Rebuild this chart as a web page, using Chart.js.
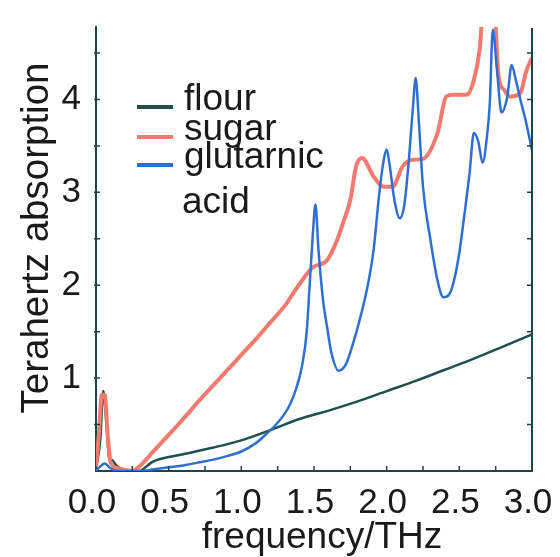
<!DOCTYPE html>
<html>
<head>
<meta charset="utf-8">
<script src="https://cdn.jsdelivr.net/npm/chart.js@4.4.1/dist/chart.umd.min.js"></script>
<style>
  html, body { margin: 0; padding: 0; background: #ffffff; }
  #wrap { width: 560px; height: 557px; }
</style>
</head>
<body>
<div id="wrap"><canvas id="thzChart" width="560" height="557"></canvas></div>
<script>
// =====================================
// TERAHERTZ ABSORPTION SPECTRA
// =====================================

const xTicks = [0.0, 0.5, 1.0, 1.5, 2.0, 2.5, 3.0];
const yTicks = [1, 2, 3, 4];

const seriesNames = ["flour", "sugar", "glutarnic acid"];

const xTitle = "frequency/THz";
const yTitle = "Terahertz absorption";

const flourFreq = [0, 0.03, 0.05, 0.07, 0.09, 0.11, 0.14, 0.18, 0.24, 0.3, 0.34, 0.38, 0.42, 0.6, 0.8, 1.0, 1.2, 1.4, 1.6, 1.8, 2.0, 2.2, 2.4, 2.6, 2.8, 3.0];
const flourAbs  = [0.02, 0.35, 0.86, 0.55, 0.15, 0.12, 0.06, 0.02, 0.0, 0.0, 0.04, 0.09, 0.12, 0.18, 0.25, 0.33, 0.44, 0.56, 0.65, 0.75, 0.86, 0.97, 1.09, 1.21, 1.34, 1.47];

const sugarFreq = [0, 0.02, 0.04, 0.06, 0.08, 0.1, 0.15, 0.2, 0.25, 0.3, 0.4, 0.5, 0.6, 0.7, 0.8, 0.9, 1.0, 1.1, 1.2, 1.3, 1.36, 1.49, 1.59, 1.66, 1.7, 1.75, 1.79, 1.83, 1.91, 1.98, 2.04, 2.11, 2.18, 2.25, 2.35, 2.41, 2.46, 2.55, 2.6, 2.64, 2.66, 2.69, 2.74, 2.77, 2.81, 2.85, 2.92, 2.96, 3.0];
const sugarAbs  = [0.05, 0.4, 0.82, 0.82, 0.4, 0.1, 0.03, 0.01, 0.0, 0.05, 0.22, 0.39, 0.56, 0.74, 0.91, 1.08, 1.25, 1.42, 1.6, 1.78, 1.92, 2.19, 2.27, 2.49, 2.67, 2.92, 3.28, 3.37, 3.17, 3.06, 3.06, 3.28, 3.35, 3.36, 3.64, 4.03, 4.05, 4.05, 4.21, 4.54, 4.9, 4.95, 4.95, 4.25, 4.1, 4.03, 4.07, 4.3, 4.45];

const acidFreq = [0, 0.03, 0.06, 0.1, 0.15, 0.3, 0.4, 0.5, 0.6, 0.7, 0.8, 0.9, 1.0, 1.1, 1.18, 1.25, 1.33, 1.38, 1.42, 1.45, 1.47, 1.49, 1.51, 1.53, 1.56, 1.59, 1.62, 1.67, 1.72, 1.77, 1.82, 1.87, 1.91, 1.95, 1.98, 2.0, 2.02, 2.05, 2.09, 2.12, 2.15, 2.18, 2.2, 2.22, 2.25, 2.3, 2.35, 2.39, 2.43, 2.46, 2.5, 2.53, 2.57, 2.6, 2.63, 2.66, 2.69, 2.71, 2.73, 2.76, 2.79, 2.83, 2.86, 2.89, 2.92, 2.96, 3.0];
const acidAbs  = [0.0, 0.05, 0.08, 0.03, 0.0, 0.0, 0.02, 0.04, 0.06, 0.09, 0.12, 0.16, 0.21, 0.3, 0.41, 0.52, 0.7, 0.9, 1.15, 1.5, 2.0, 2.5, 2.87, 2.4, 1.87, 1.55, 1.27, 1.08, 1.15, 1.38, 1.66, 2.0, 2.38, 3.0, 3.35, 3.46, 3.3, 2.95, 2.72, 2.85, 3.3, 3.9, 4.23, 3.8, 3.06, 2.5, 2.05, 1.87, 1.9, 2.03, 2.35, 2.7, 3.2, 3.64, 3.55, 3.32, 3.6, 3.97, 4.75, 4.3, 3.86, 4.03, 4.37, 4.2, 4.0, 3.75, 3.45];

const axisColor = "#1d4448";
const textColor = "#1a1a1a";
const fontFamily = "'Liberation Sans', Arial, sans-serif";
const lineColors = ["#1f4f50", "#f27a6e", "#2f6fd0"];


function toPoints(xs, ys){

    return xs.map((x,i)=>({ x:x, y:ys[i] }));

}


// keep the plot box fixed: no extra room for overhanging tick labels
function fixBox(size){

    return scale=>{
        if(scale.isHorizontal()) scale.height = size;
        else scale.width = size;
        scale.paddingLeft = 0;
        scale.paddingRight = 0;
        scale.paddingTop = 0;
        scale.paddingBottom = 0;
    };

}


// inward minor ticks on bottom, left and right, plus the right frame line
const frameTicks = {

    id:"frameTicks",

    afterDraw(chart){

        const {ctx, chartArea, scales} = chart;
        const xs = scales.x;
        const ys = scales.y;

        ctx.save();
        ctx.strokeStyle = axisColor;
        ctx.lineWidth = 2;

        ctx.beginPath();
        ctx.moveTo(chartArea.right, chartArea.top + 1);
        ctx.lineTo(chartArea.right, chartArea.bottom);
        ctx.stroke();

        ctx.lineWidth = 1.5;
        ctx.beginPath();

        for(let v = 0.25; v < 3; v += 0.25){
            const px = xs.getPixelForValue(v);
            ctx.moveTo(px, chartArea.bottom);
            ctx.lineTo(px, chartArea.bottom - 5);
        }

        for(let v = 0.5; v < ys.max; v += 0.5){
            const py = ys.getPixelForValue(v);
            ctx.moveTo(chartArea.left - 2, py);
            ctx.lineTo(chartArea.left + 4, py);
            ctx.moveTo(chartArea.right - 5, py);
            ctx.lineTo(chartArea.right + 1, py);
        }

        ctx.stroke();
        ctx.restore();

    }

};


// axis titles
const axisTitles = {

    id:"axisTitles",

    afterDraw(chart){

        const ctx = chart.ctx;

        ctx.save();
        ctx.fillStyle = textColor;
        ctx.textAlign = "center";
        ctx.textBaseline = "alphabetic";

        ctx.font = "37px " + fontFamily;
        ctx.fillText(xTitle, 322, 548);

        ctx.translate(48, 238);
        ctx.rotate(-Math.PI / 2);
        ctx.font = "38.5px " + fontFamily;
        ctx.fillText(yTitle, 0, 0);

        ctx.restore();

    }

};


// legend drawn inside the plot, label wraps onto a second line
const innerLegend = {

    id:"innerLegend",

    afterDraw(chart){

        const ctx = chart.ctx;
        const baselines = [110, 140, 168];

        ctx.save();
        ctx.font = "37px " + fontFamily;
        ctx.fillStyle = textColor;
        ctx.textBaseline = "alphabetic";
        ctx.textAlign = "left";

        chart.data.datasets.forEach((ds,i)=>{

            const base = baselines[i];

            ctx.strokeStyle = ds.borderColor;
            ctx.lineWidth = 4;
            ctx.beginPath();
            ctx.moveTo(137, base - 3);
            ctx.lineTo(173, base - 3);
            ctx.stroke();

            const words = ds.label.split(" ");
            ctx.fillText(words[0], 184, base);

            if(words.length > 1){
                ctx.fillText(words.slice(1).join(" "), 182, base + 45);
            }

        });

        ctx.restore();

    }

};


const canvas = document.getElementById("thzChart");

new Chart(canvas,{

    type:"scatter",

    data:{

        datasets:[

            {
                label:seriesNames[0],
                data:toPoints(flourFreq, flourAbs),
                borderColor:lineColors[0],
                borderWidth:2.5,
                order:3
            },

            {
                label:seriesNames[1],
                data:toPoints(sugarFreq, sugarAbs),
                borderColor:lineColors[1],
                borderWidth:4,
                order:2
            },

            {
                label:seriesNames[2],
                data:toPoints(acidFreq, acidAbs),
                borderColor:lineColors[2],
                borderWidth:2.5,
                order:1
            }

        ].map(ds=>Object.assign(ds,{
            showLine:true,
            pointRadius:0,
            fill:false,
            cubicInterpolationMode:"monotone"
        }))

    },

    options:{

        responsive:false,
        animation:false,

        layout:{
            padding:{ top:27, right:28, left:0, bottom:0 }
        },

        plugins:{
            legend:{ display:false },
            tooltip:{ enabled:false }
        },

        scales:{

            x:{
                type:"linear",
                min:0,
                max:3,
                grid:{ display:false, drawTicks:false },
                border:{ display:true, color:axisColor, width:2 },
                afterBuildTicks:scale=>{
                    scale.ticks = xTicks.map(v=>({ value:v }));
                },
                ticks:{
                    padding:11,
                    labelOffset:-4,
                    color:textColor,
                    font:{ family:fontFamily, size:35 },
                    callback:v=>v.toFixed(1)
                },
                title:{ display:false },
                afterFit:fixBox(86)
            },

            y:{
                type:"linear",
                min:0,
                max:4.78,
                grid:{ display:false, drawTicks:false },
                border:{ display:true, color:axisColor, width:2 },
                afterBuildTicks:scale=>{
                    scale.ticks = yTicks.map(v=>({ value:v }));
                },
                ticks:{
                    padding:15,
                    color:textColor,
                    font:{ family:fontFamily, size:35 },
                    callback:v=>String(v)
                },
                title:{ display:false },
                afterFit:fixBox(96)
            }

        }

    },

    plugins:[frameTicks, axisTitles, innerLegend]

});
</script>
</body>
</html>
